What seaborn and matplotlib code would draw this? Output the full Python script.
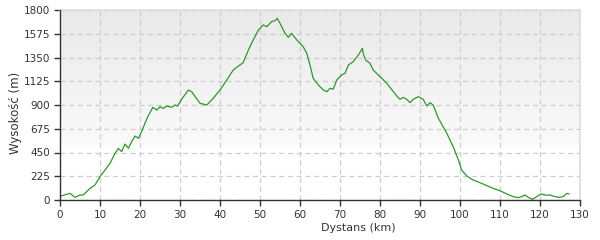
import numpy as np
import pandas as pd
import matplotlib
matplotlib.use("Agg")
import matplotlib.pyplot as plt
import seaborn as sns

# Distance (km) and elevation (m)
distance_km = [0, 2.5, 3.75, 5, 5.8, 7.5, 8.75, 10, 11.25, 12.5, 13.75, 14.6, 15.4, 16.25,
               17.1, 17.9, 18.75, 19.6, 20.4, 21.7, 23.2, 24.2, 25, 25.8, 26.7, 27.9, 28.75,
               29.4, 30.4, 32.1, 32.9, 35, 36.7, 38.3, 40, 41.7, 43.3, 44.6, 45.8, 47.1, 48.3,
               49.6, 50.8, 51.7, 52.9, 53.75, 54.3, 55, 56.25, 57.1, 57.9, 59.2, 60.8, 61.7,
               62.5, 63.3, 64.6, 65.8, 66.7, 67.5, 68.3, 69.2, 70.4, 71.25, 72.1, 73.3, 74.6,
               75.6, 75.8, 76.4, 77.5, 78.3, 80, 81.7, 82.9, 84.2, 85, 85.8, 86.7, 87.5, 88.3,
               89.6, 90.8, 91.7, 92.5, 93.3, 94.6, 96.7, 98.3, 99.6, 100.4, 101.7, 103.3, 105,
               106.7, 108.3, 110, 111.7, 113.3, 114.6, 115.4, 116.25, 117.1, 118.1, 119.2,
               120.2, 121.25, 122.5, 123.75, 124.6, 125.8, 126.7, 127.3]
elevation_m = [35, 63, 25, 47, 47, 110, 142, 221, 284, 347, 442, 489, 458, 530,
               489, 552, 606, 584, 647, 770, 878, 852, 884, 868, 890, 878, 900,
               890, 954, 1042, 1026, 916, 900, 963, 1042, 1137, 1231, 1269, 1301, 1421, 1516,
               1610, 1658, 1642, 1690, 1699, 1721, 1674, 1579, 1541, 1579, 1516, 1452, 1389,
               1279, 1153, 1089, 1042, 1026, 1058, 1050, 1137, 1184, 1200, 1279, 1310, 1374,
               1437, 1389, 1326, 1295, 1231, 1168, 1105, 1048, 985, 954, 972, 954, 922, 954,
               979, 954, 890, 922, 900, 774, 632, 505, 379, 284, 227, 189, 164,
               136, 110, 88, 57, 32, 22, 32, 47, 25, 6, 32,
               57, 47, 47, 32, 25, 32, 63, 57]

x_ticks = [0, 10, 20, 30, 40, 50, 60, 70, 80, 90, 100, 110, 120, 130]
y_ticks = [0, 225, 450, 675, 900, 1125, 1350, 1575, 1800]

df = pd.DataFrame({"Dystans (km)": distance_km, "Wysokość (m)": elevation_m})

sns.set_theme(style="white")
plt.rcParams['font.family'] = ['DejaVu Sans']

fig = plt.figure(figsize=(6, 2.4), dpi=100)
ax = fig.add_axes([60/600, 40/240, 520/600, 190/240])

# background gradient
grad_top = 0.915
grad_bot = 0.98
n = 200
frac = np.linspace(0, 1, n)  # 0 top -> 1 bottom
cut = 0.71
vals = np.where(frac < cut, grad_top + (grad_bot - grad_top) * frac / cut, 1.0)
img = np.repeat(vals[:, None], 2, axis=1)
ax.imshow(np.dstack([img, img, img]), extent=[0, 130, 0, 1800], aspect='auto',
          zorder=0, interpolation='bilinear')

sns.lineplot(data=df, x="Dystans (km)", y="Wysokość (m)", ax=ax, color="#2f962f",
             linewidth=0.9, zorder=3, estimator=None, sort=False)

ax.set_xlim(0, 130)
ax.set_ylim(0, 1800)
ax.set_xticks(x_ticks)
ax.set_yticks(y_ticks)
ax.set_xticklabels([str(v) for v in x_ticks])
ax.set_yticklabels([str(v) for v in y_ticks])
ax.grid(True, color="#cccccc", linestyle=(0, (4, 3)), linewidth=0.9)
for gl in ax.get_xgridlines() + ax.get_ygridlines():
    gl.set_zorder(1)

ax.tick_params(axis='both', which='both', length=4, width=1, color="#333333",
               labelsize=7.5, labelcolor="#333333", direction='out', pad=3)
ax.tick_params(axis='x', bottom=True)
ax.tick_params(axis='y', left=True)

for s in ['left', 'bottom']:
    ax.spines[s].set_color("#333333")
    ax.spines[s].set_linewidth(1.0)
    ax.spines[s].set_zorder(6)
for s in ['top', 'right']:
    ax.spines[s].set_color("#dddddd")
    ax.spines[s].set_linewidth(1.2)
    ax.spines[s].set_zorder(5)

ax.set_xlabel("Dystans (km)", fontsize=8, color="#333333")
ax.set_ylabel("Wysokość (m)", fontsize=8.5, color="#333333")
ax.xaxis.set_label_coords(0.573, -0.12)
ax.yaxis.set_label_coords(-0.074, 0.458)

fig.savefig("out.png", dpi=100, facecolor="white")
